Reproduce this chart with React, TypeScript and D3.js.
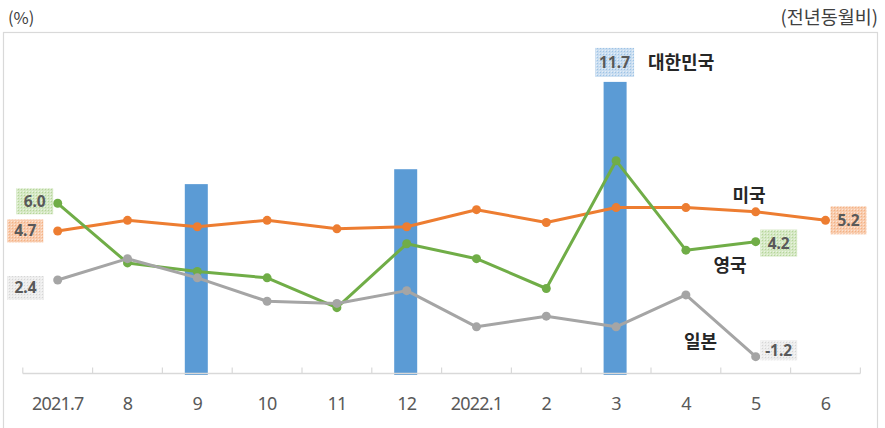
import React from "react";
import * as d3 from "d3";

const categories = ["2021.7", "8", "9", "10", "11", "12", "2022.1", "2", "3", "4", "5", "6"];
const usValues = [4.7, 5.2, 4.9, 5.2, 4.8, 4.9, 5.7, 5.1, 5.8, 5.8, 5.6, 5.2];
const ukValues = [6.0, 3.2, 2.8, 2.5, 1.1, 4.1, 3.4, 2.0, 8.0, 3.8, 4.2];
const jpValues = [2.4, 3.4, 2.5, 1.4, 1.3, 1.9, 0.2, 0.7, 0.2, 1.7, -1.2];
const krCategories = ["9", "12", "3"];
const krValues = [6.9, 7.6, 11.7];
const seriesNames = { kr: "대한민국", us: "미국", uk: "영국", jp: "일본" };
const yDomain = [-2, 14];

const ORANGE = "#ED7D31";
const GREEN = "#70AD47";
const GRAY = "#A5A5A5";
const BLUE = "#5B9BD5";

export default function App() {
  const W = 885;
  const H = 428;
  const x = d3.scaleBand<string>().domain(categories).range([22.8, 860.4]).padding(0);
  const y = d3.scaleLinear().domain(yDomain).range([373.7, 32.9]);
  const cx = (c: string) => (x(c) as number) + x.bandwidth() / 2;
  const axisY = 373.5;

  const lineGen = d3
    .line<number>()
    .x((_, i) => cx(categories[i]))
    .y((d) => y(d));

  const ticks = d3.range(categories.length + 1).map((i) => 22.8 + i * x.bandwidth());

  const labelFont = "'Noto Sans', 'Open Sans', sans-serif";
  const krFont = "'Noto Sans CJK KR', 'Noto Sans', sans-serif";

  const box = (
    key: string,
    cxv: number,
    cyv: number,
    w: number,
    h: number,
    pat: string,
    text: string
  ) => (
    <g key={key}>
      <rect x={cxv - w / 2} y={cyv - h / 2} width={w} height={h} fill={`url(#${pat})`} />
      <text
        x={cxv}
        y={cyv + 5.5}
        textAnchor="middle"
        fontFamily={labelFont}
        fontWeight="bold"
        fontSize={15.5}
        fill="#595959"
      >
        {text}
      </text>
    </g>
  );

  const series = [
    { key: "us", vals: usValues, color: ORANGE },
    { key: "uk", vals: ukValues, color: GREEN },
    { key: "jp", vals: jpValues, color: GRAY },
  ];

  const pt = (vals: number[], i: number) => [cx(categories[i]), y(vals[i])];
  const lastUs = usValues.length - 1;
  const lastUk = ukValues.length - 1;
  const lastJp = jpValues.length - 1;
  const krLast = krValues.length - 1;
  const krTop = [cx(krCategories[krLast]), y(krValues[krLast])];

  const patterns = [
    { id: "pOrange", base: "#F8CBAD", dot: "#F4B183" },
    { id: "pGreen", base: "#D5E8C4", dot: "#B5D59A" },
    { id: "pGray", base: "#EDEDED", dot: "#D6D6D6" },
    { id: "pBlue", base: "#C9DDF0", dot: "#9DC3E6" },
  ];

  return (
    <svg
      width={W}
      height={H}
      style={{ position: "absolute", left: 0, top: 0, background: "#fff" }}
    >
      <defs>
        {patterns.map((p) => (
          <pattern key={p.id} id={p.id} width={3} height={3} patternUnits="userSpaceOnUse">
            <rect width={3} height={3} fill={p.base} />
            <rect width={1} height={1} fill={p.dot} />
            <rect x={2} y={2} width={1} height={1} fill="#ffffff" opacity={0.5} />
          </pattern>
        ))}
      </defs>

      {/* outer frame */}
      <rect x={3.5} y={32.5} width={874} height={400} fill="none" stroke="#D9D9D9" strokeWidth={1.2} />

      {/* header texts */}
      <text x={8} y={24} fontFamily={krFont} fontSize={16.5} fill="#404040">
        (%)
      </text>
      <text x={878} y={24} textAnchor="end" fontFamily={krFont} fontSize={18.5} fill="#404040">
        (전년동월비)
      </text>

      {/* bars */}
      {krCategories.map((c, i) => (
        <rect
          key={c}
          x={cx(c) - 11.5 - 1}
          y={y(krValues[i])}
          width={23}
          height={375 - y(krValues[i])}
          fill={BLUE}
        />
      ))}

      {/* axis */}
      <line x1={22.8} x2={860.4} y1={axisY} y2={axisY} stroke="#D9D9D9" strokeWidth={1.5} />
      {ticks.map((t, i) => (
        <line key={i} x1={t} x2={t} y1={axisY} y2={axisY - 6} stroke="#D9D9D9" strokeWidth={1.2} />
      ))}
      {categories.map((c) => (
        <text
          key={c}
          x={cx(c)}
          y={410}
          textAnchor="middle"
          fontFamily={labelFont}
          fontSize={18}
          letterSpacing={-0.8}
          fill="#595959"
        >
          {c}
        </text>
      ))}

      {/* lines */}
      {series.map((s) => (
        <g key={s.key}>
          <path d={lineGen(s.vals) as string} fill="none" stroke={s.color} strokeWidth={3} strokeLinejoin="round" />
          {s.vals.map((v, i) => (
            <circle key={i} cx={cx(categories[i])} cy={y(v)} r={4.5} fill={s.color} />
          ))}
        </g>
      ))}

      {/* data labels */}
      {box("uk0", pt(ukValues, 0)[0] - 23, pt(ukValues, 0)[1] - 2, 37, 26, "pGreen", ukValues[0].toFixed(1))}
      {box("us0", pt(usValues, 0)[0] - 32.4, pt(usValues, 0)[1], 36, 23, "pOrange", usValues[0].toFixed(1))}
      {box("jp0", pt(jpValues, 0)[0] - 32.2, pt(jpValues, 0)[1] + 8, 37, 24, "pGray", jpValues[0].toFixed(1))}
      {box("usL", pt(usValues, lastUs)[0] + 23, pt(usValues, lastUs)[1], 36, 28, "pOrange", usValues[lastUs].toFixed(1))}
      {box("ukL", pt(ukValues, lastUk)[0] + 23, pt(ukValues, lastUk)[1] + 1.4, 37, 27, "pGreen", ukValues[lastUk].toFixed(1))}
      {box("jpL", pt(jpValues, lastJp)[0] + 23, pt(jpValues, lastJp)[1] - 6.4, 37, 20, "pGray", jpValues[lastJp].toFixed(1))}
      {box("krL", krTop[0] - 1.5, krTop[1] - 19.5, 39, 29, "pBlue", krValues[krLast].toFixed(1))}

      {/* series names */}
      <text x={648} y={69} fontFamily={krFont} fontWeight="bold" fontSize={18} fill="#262626">
        {seriesNames.kr}
      </text>
      <text x={749} y={201.5} textAnchor="middle" fontFamily={krFont} fontWeight="bold" fontSize={18} fill="#262626">
        {seriesNames.us}
      </text>
      <text x={730} y={271.5} textAnchor="middle" fontFamily={krFont} fontWeight="bold" fontSize={18} fill="#262626">
        {seriesNames.uk}
      </text>
      <text x={700.5} y={347.5} textAnchor="middle" fontFamily={krFont} fontWeight="bold" fontSize={18} fill="#262626">
        {seriesNames.jp}
      </text>
    </svg>
  );
}
